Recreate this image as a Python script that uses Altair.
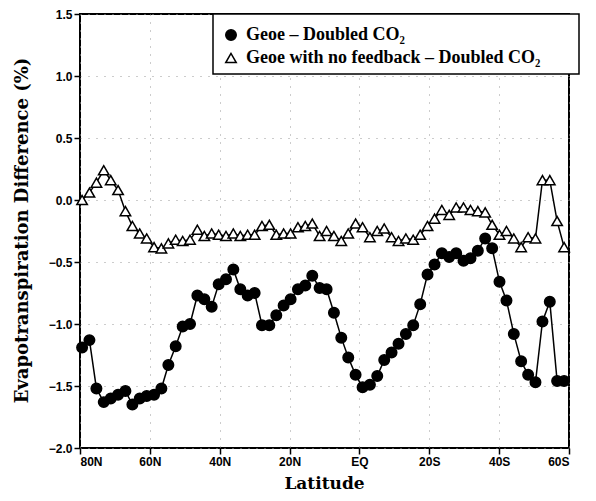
import altair as alt
import pandas as pd

# Latitude of each model row (positive = N, negative = S)
lats = [79.4, 77.3, 75.3, 73.2, 71.2, 69.1, 67.0, 65.0, 62.9, 60.9,
        58.8, 56.7, 54.7, 52.6, 50.6, 48.5, 46.4, 44.4, 42.3, 40.3,
        38.2, 36.1, 34.1, 32.0, 30.0, 27.9, 25.8, 23.8, 21.7, 19.7,
        17.6, 15.5, 13.5, 11.4, 9.4, 7.3, 5.2, 3.2, 1.1, -0.9,
        -3.0, -5.1, -7.1, -9.2, -11.2, -13.3, -15.4, -17.4, -19.5, -21.5,
        -23.6, -25.7, -27.7, -29.8, -31.8, -33.9, -36.0, -38.0, -40.1, -42.1,
        -44.2, -46.3, -48.3, -50.4, -52.4, -54.5, -56.6, -58.6]

geoe_minus_2co2 = [-1.19, -1.13, -1.52, -1.63, -1.60, -1.57, -1.54, -1.65, -1.60, -1.58,
                   -1.57, -1.52, -1.33, -1.18, -1.02, -1.00, -0.77, -0.80, -0.86, -0.68,
                   -0.64, -0.56, -0.72, -0.77, -0.75, -1.01, -1.01, -0.93, -0.85, -0.80,
                   -0.72, -0.69, -0.61, -0.71, -0.72, -0.91, -1.11, -1.27, -1.41, -1.51,
                   -1.49, -1.42, -1.29, -1.23, -1.16, -1.08, -1.01, -0.84, -0.60, -0.52,
                   -0.43, -0.46, -0.43, -0.49, -0.47, -0.41, -0.31, -0.39, -0.66, -0.81,
                   -1.08, -1.30, -1.41, -1.47, -0.98, -0.82, -1.46, -1.46]

geoe_nofb_minus_2co2 = [0.00, 0.06, 0.14, 0.24, 0.16, 0.08, -0.09, -0.21, -0.27, -0.31,
                        -0.38, -0.39, -0.35, -0.32, -0.33, -0.32, -0.24, -0.29, -0.27, -0.28,
                        -0.29, -0.27, -0.29, -0.28, -0.28, -0.21, -0.20, -0.28, -0.27, -0.27,
                        -0.22, -0.21, -0.19, -0.29, -0.25, -0.29, -0.33, -0.27, -0.19, -0.22,
                        -0.30, -0.25, -0.23, -0.30, -0.33, -0.31, -0.32, -0.28, -0.21, -0.15,
                        -0.08, -0.12, -0.06, -0.06, -0.08, -0.09, -0.10, -0.20, -0.28, -0.25,
                        -0.31, -0.38, -0.30, -0.31, 0.16, 0.16, -0.17, -0.38]

series_names = ["Geoe \u2013 Doubled CO\u2082",
                "Geoe with no feedback \u2013 Doubled CO\u2082"]

x_ticks = [80, 60, 40, 20, 0, -20, -40, -60]
y_ticks = [-2.0, -1.5, -1.0, -0.5, 0.0, 0.5, 1.0, 1.5]

rows = []
for lat, v in zip(lats, geoe_minus_2co2):
    rows.append({"lat": lat, "value": v, "series": series_names[0]})
for lat, v in zip(lats, geoe_nofb_minus_2co2):
    rows.append({"lat": lat, "value": v, "series": series_names[1]})
df = pd.DataFrame(rows)

x = alt.X("lat:Q",
          scale=alt.Scale(domain=[-60, 80], reverse=True, nice=False, zero=False),
          axis=alt.Axis(values=x_ticks,
                        labelExpr="datum.value > 0 ? datum.value + 'N' : (datum.value < 0 ? (-datum.value) + 'S' : 'EQ')",
                        title="Latitude", titleX=244, titleY=40, titleFontSize=17,
                        titleAlign="center", titleBaseline="alphabetic"))
y = alt.Y("value:Q",
          scale=alt.Scale(domain=[-2.0, 1.5], nice=False, zero=False),
          axis=alt.Axis(values=y_ticks, format=".1f",
                        title="Evapotranspiration Difference (%)",
                        titleX=-58, titleY=216, titleFontSize=18,
                        titleAlign="center", titleBaseline="middle"))

box = alt.Chart(pd.DataFrame({"a": [0]})).mark_rect(
    fill="white", stroke="black", strokeWidth=1.5).encode(
    x=alt.value(133), x2=alt.value(499), y=alt.value(0), y2=alt.value(60))

base = alt.Chart(df)

lines = base.mark_line(color="black", strokeWidth=1.5).encode(
    x=x, y=y, detail="series:N")

legend = alt.Legend(orient="none", legendX=142, legendY=12, title=None,
                    labelFont="Liberation Serif", labelFontWeight="bold",
                    labelFontSize=18, labelColor="black", labelOffset=6,
                    labelLimit=420,
                    symbolStrokeWidth=1.5,
                    symbolSize=110, rowPadding=5, padding=0,
                    zindex=5)

points = base.mark_point(filled=True, strokeWidth=1.5,
                         opacity=1, size=110).encode(
    x=x, y=y,
    shape=alt.Shape("series:N",
                    scale=alt.Scale(domain=series_names, range=["circle", "triangle-up"]),
                    legend=legend),
    fill=alt.Fill("series:N",
                  scale=alt.Scale(domain=series_names, range=["black", "white"]),
                  legend=legend),
    stroke=alt.Stroke("series:N",
                      scale=alt.Scale(domain=series_names, range=["black", "black"]),
                      legend=legend),
)

chart = alt.layer(box, lines, points).properties(
    width=489, height=434,
    autosize=alt.AutoSizeParams(type="none"),
    padding={"left": 72, "top": 6, "right": 19, "bottom": 45},
).configure_view(
    stroke="black", strokeWidth=2
).configure_axis(
    labelFont="Liberation Sans", labelFontWeight="bold", labelFontSize=12,
    labelColor="black", labelPadding=2,
    tickColor="black", tickSize=6, tickWidth=1.5,
    domain=False, grid=True, gridColor="#999999", gridDash=[1, 7], gridWidth=1,
    titleFont="DejaVu Serif", titleFontWeight="bold",
    titleColor="black",
)

chart.save("out.html", embed_options={"renderer": "svg", "actions": False})
